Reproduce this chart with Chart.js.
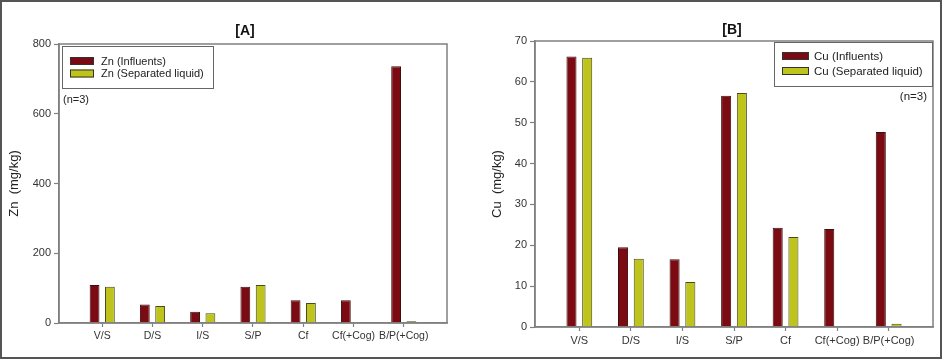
<!DOCTYPE html>
<html>
<head>
<meta charset="utf-8">
<script src="https://cdn.jsdelivr.net/npm/chart.js@4"></script>
<style>
  html, body { margin: 0; padding: 0; background: #fff; }
  #wrap { position: relative; width: 942px; height: 359px; overflow: hidden; background: #fff; }
  #cA { position: absolute; left: 0; top: 0; }
  #cB { position: absolute; left: 470px; top: 0; }
  #frame { position: absolute; left: 0; top: 0; width: 942px; height: 359px; box-sizing: border-box; border: 2px solid #555; pointer-events: none; }
</style>
</head>
<body>
<div id="wrap">
  <canvas id="cA" width="470" height="359"></canvas>
  <canvas id="cB" width="472" height="359"></canvas>
  <div id="frame"></div>
</div>
<script>
// ---- data ----
const categories = ['V/S', 'D/S', 'I/S', 'S/P', 'Cf', 'Cf(+Cog)', 'B/P(+Cog)'];
const znInfluents = [109, 53, 32, 104, 65, 65, 736];
const znSeparated = [104, 49, 28, 109, 57, 0, 5];
const cuInfluents = [66.2, 19.5, 16.6, 56.6, 24.3, 24.0, 47.7];
const cuSeparated = [65.9, 16.7, 11.0, 57.3, 22.0, 0.2, 0.8];
const znTicks = [0, 200, 400, 600, 800];
const cuTicks = [0, 10, 20, 30, 40, 50, 60, 70];

const RED = '#7c0a12';
const GREEN = '#bec41c';
const AXIS = '#808080';
const FONT = '"Liberation Sans", Arial, sans-serif';

const deco = {
  id: 'deco',
  afterDraw(chart, args, o) {
    const ctx = chart.ctx, a = chart.chartArea;
    ctx.save();
    ctx.strokeStyle = AXIS; ctx.lineWidth = 1.5;
    ctx.strokeRect(a.left, a.top, a.width, a.height);
    ctx.fillStyle = '#111';
    ctx.font = 'bold 14px ' + FONT;
    ctx.textAlign = 'center'; ctx.textBaseline = 'middle';
    ctx.fillText(o.title, o.titleX, o.titleY);
    const L = o.legend;
    ctx.lineWidth = 1; ctx.strokeStyle = '#666';
    ctx.fillStyle = '#fff';
    ctx.fillRect(L.x, L.y, L.w, L.h);
    ctx.strokeRect(L.x + 0.5, L.y + 0.5, L.w, L.h);
    ctx.font = L.font + 'px ' + FONT;
    ctx.textAlign = 'left'; ctx.textBaseline = 'middle';
    chart.data.datasets.forEach((ds, i) => {
      const sy = L.y + L.sy0 + i * L.dy;
      ctx.fillStyle = ds.backgroundColor;
      ctx.fillRect(L.x + L.sx, sy, L.sw, L.sh);
      ctx.strokeStyle = '#333';
      ctx.strokeRect(L.x + L.sx + 0.5, sy + 0.5, L.sw - 1, L.sh - 1);
      ctx.fillStyle = '#222';
      ctx.fillText(ds.label, L.x + L.tx, sy + L.sh / 2 + 0.5);
    });
    ctx.font = L.font + 'px ' + FONT;
    ctx.fillStyle = '#222';
    ctx.textAlign = o.nAlign;
    ctx.fillText('(n=3)', o.nX, o.nY);
    ctx.restore();
  }
};

function makeChart(id, opts) {
  const labelsIdx = categories.map((c, i) => i);
  return new Chart(document.getElementById(id), {
    type: 'bar',
    data: {
      labels: labelsIdx,
      datasets: [
        { label: opts.names[0], data: opts.s1, backgroundColor: RED, borderColor: '#3a1010', borderWidth: 1 },
        { label: opts.names[1], data: opts.s2, backgroundColor: GREEN, borderColor: '#4a4a20', borderWidth: 1 }
      ]
    },
    options: {
      responsive: false,
      animation: false,
      devicePixelRatio: 1,
      layout: { padding: opts.padding },
      datasets: { bar: { categoryPercentage: 0.61, barPercentage: 0.64 } },
      plugins: {
        legend: { display: false },
        title: { display: false },
        tooltip: { enabled: false },
        deco: opts.deco
      },
      scales: {
        x: {
          type: 'linear',
          offset: false,
          min: -0.86, max: 6.86,
          afterBuildTicks: s => {
            s.ticks = categories.map((c, i) => ({ value: i }));
          },
          afterFit: s => { s.height = opts.xHeight; },
          ticks: {
            autoSkip: false, maxRotation: 0, minRotation: 0,
            callback: v => categories[Math.round(v)],
            font: { family: FONT, size: opts.xFont }, color: '#333', padding: 3
          },
          grid: { display: true, offset: false, drawOnChartArea: false, drawTicks: true, tickLength: 4, tickColor: AXIS, tickWidth: 1.2 },
          border: { display: true, color: AXIS, width: 1.5 }
        },
        y: {
          min: 0, max: opts.yTicks[opts.yTicks.length - 1],
          afterBuildTicks: s => { s.ticks = opts.yTicks.map(v => ({ value: v })); },
          afterFit: s => { s.width = opts.yWidth; },
          ticks: { font: { family: FONT, size: 11 }, color: '#333', padding: 3 },
          grid: { display: true, drawOnChartArea: false, drawTicks: true, tickLength: 5, tickColor: AXIS, tickWidth: 1.2 },
          border: { display: true, color: AXIS, width: 1.5 },
          title: { display: true, text: opts.yTitle, font: { family: FONT, size: 13 }, color: '#222', padding: { top: opts.yTitlePad, bottom: 0 } }
        }
      }
    },
    plugins: [deco]
  });
}

makeChart('cA', {
  names: ['Zn (Influents)', 'Zn (Separated liquid)'],
  s1: znInfluents, s2: znSeparated,
  yTicks: znTicks, yTitle: 'Zn  (mg/kg)', yTitlePad: 7,
  padding: { top: 44, right: 23, bottom: 0, left: 0 },
  yWidth: 59, xHeight: 36, xFont: 10.5,
  deco: {
    title: '[A]', titleX: 245, titleY: 31,
    legend: { x: 62, y: 46, w: 151, h: 42, sx: 8, sw: 24, sh: 8, sy0: 11, dy: 12.5, tx: 39, font: 11 },
    nX: 63, nY: 100, nAlign: 'left'
  }
});

makeChart('cB', {
  names: ['Cu (Influents)', 'Cu (Separated liquid)'],
  s1: cuInfluents, s2: cuSeparated,
  yTicks: cuTicks, yTitle: 'Cu  (mg/kg)', yTitlePad: 20,
  padding: { top: 41, right: 9, bottom: 0, left: 0 },
  yWidth: 65, xHeight: 32, xFont: 11,
  deco: {
    title: '[B]', titleX: 262, titleY: 30,
    legend: { x: 304, y: 42, w: 158, h: 44, sx: 8, sw: 27, sh: 8, sy0: 10, dy: 15, tx: 40, font: 11.5 },
    nX: 457, nY: 97, nAlign: 'right'
  }
});
</script>
</body>
</html>
